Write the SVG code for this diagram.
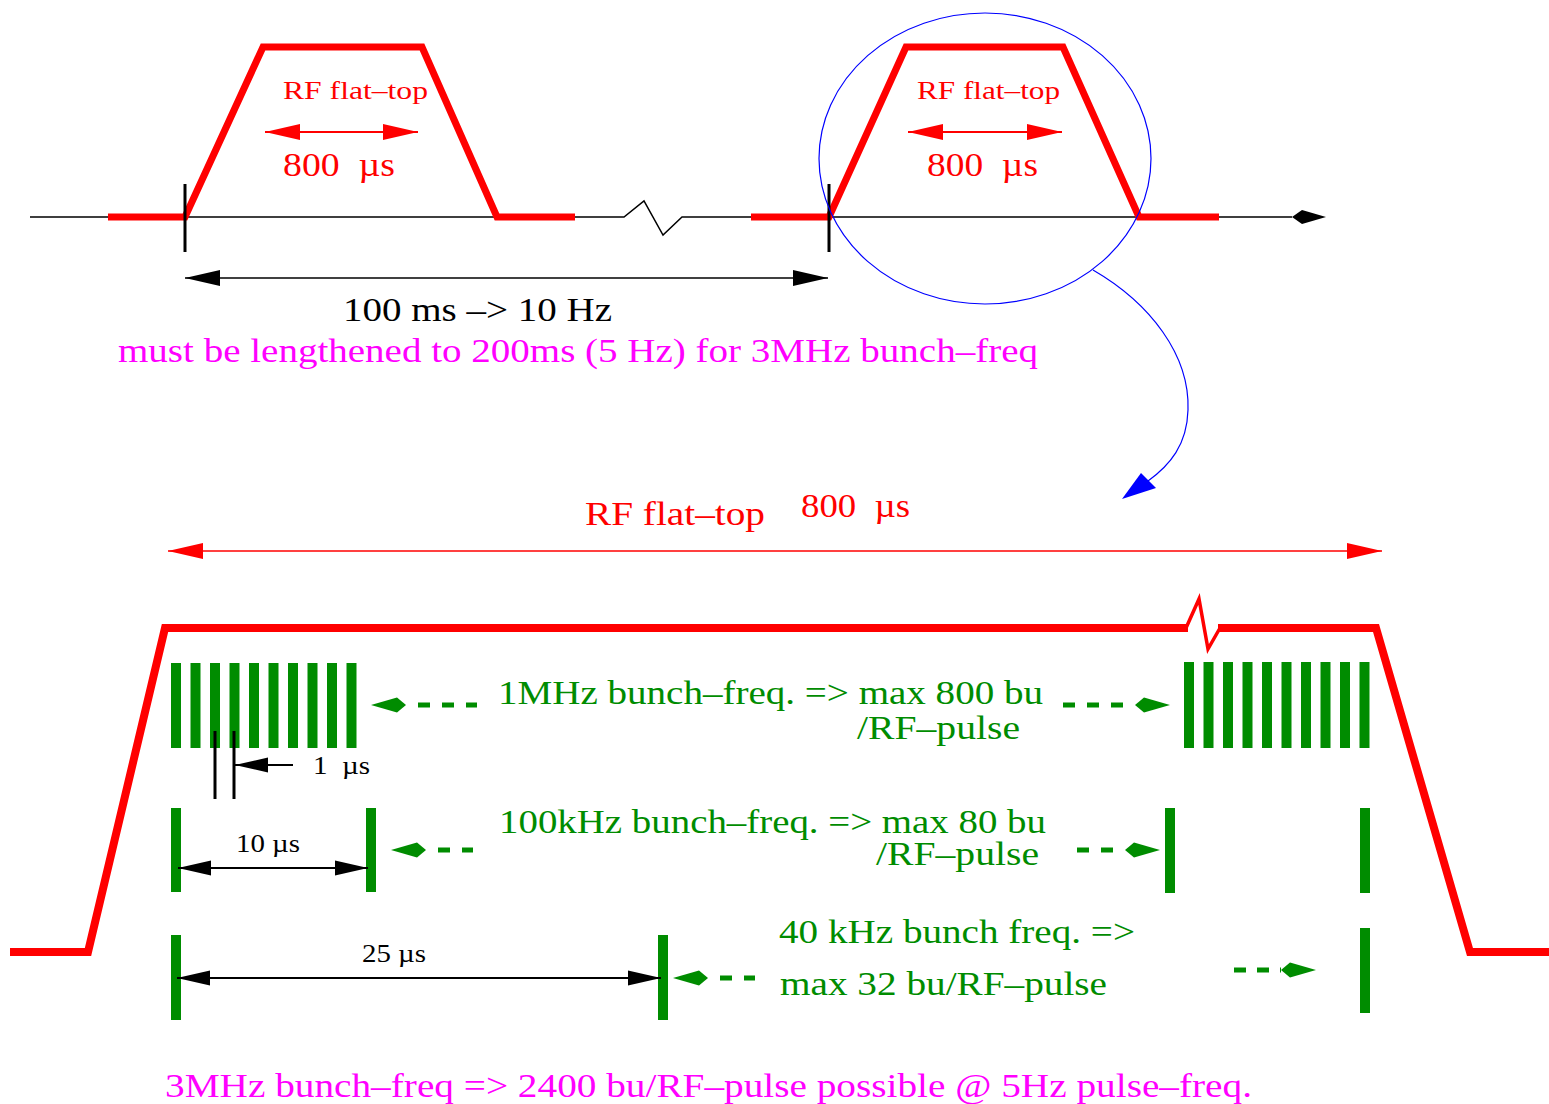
<svg xmlns="http://www.w3.org/2000/svg" width="1549" height="1104" viewBox="0 0 1549 1104">
<style>
text{font-family:"Liberation Serif","Times New Roman",serif;}
.red{fill:#ff0000}
.grn{fill:#008c00}
.mag{fill:#ff00ff}
.blk{fill:#000}
.big{font-size:34px}
.mid{font-size:33px}
.sm{font-size:26px}
.xs{font-size:25px}
.pulse{fill:none;stroke:#ff0000;stroke-width:7;stroke-linejoin:miter}
.bigpulse{fill:none;stroke:#ff0000;stroke-width:8;stroke-linejoin:miter}
.dash{fill:none;stroke:#008c00;stroke-width:5;stroke-dasharray:12 12}
.bar{fill:#008c00}
</style>
<defs>
<marker id="triBlack" markerUnits="userSpaceOnUse" markerWidth="36" markerHeight="18" refX="35" refY="8" orient="auto-start-reverse" overflow="visible">
<path d="M0,0 L35,8 L0,16 z" fill="#000"/>
</marker>
<marker id="triBlackS" markerUnits="userSpaceOnUse" markerWidth="34" markerHeight="16" refX="33" refY="7.5" orient="auto-start-reverse" overflow="visible">
<path d="M0,0 L33,7.5 L0,15 z" fill="#000"/>
</marker>
<marker id="triRed" markerUnits="userSpaceOnUse" markerWidth="36" markerHeight="18" refX="35" refY="8" orient="auto-start-reverse" overflow="visible">
<path d="M0,0 L35,8 L0,16 z" fill="#ff0000"/>
</marker>
<marker id="kiteGreen" markerUnits="userSpaceOnUse" markerWidth="36" markerHeight="16" refX="0" refY="0" orient="auto-start-reverse" overflow="visible">
<path d="M0,0 L9,-7.5 L35,0 L9,7.5 z" fill="#008c00"/>
</marker>
<marker id="kiteBlack" markerUnits="userSpaceOnUse" markerWidth="36" markerHeight="16" refX="0" refY="0" orient="auto" overflow="visible">
<path d="M0,0 L10,-7 L34,0 L10,7 z" fill="#000"/>
</marker>
</defs>

<g id="top-axis">
<path d="M30,217 L624,217 L644,201 L663,235 L682,217 L1292,217" fill="none" stroke="#000" stroke-width="1.5" marker-end="url(#kiteBlack)"/>
</g>

<g id="pulse-left">
<path class="pulse" d="M108,217 L185,217 L263,47 L422,47 L497,217 L575,217"/>
<line x1="185" y1="184" x2="185" y2="252" stroke="#000" stroke-width="3"/>
<text class="red sm" x="283" y="99" textLength="145" lengthAdjust="spacingAndGlyphs">RF flat–top</text>
<text class="red big" x="283" y="176" textLength="112" lengthAdjust="spacingAndGlyphs" xml:space="preserve">800  µs</text>
</g>

<g id="pulse-right">
<path class="pulse" d="M751,217 L829,217 L906,47 L1063,47 L1139,217 L1219,217"/>
<line x1="829" y1="184" x2="829" y2="252" stroke="#000" stroke-width="3"/>
<text class="red sm" x="917" y="99" textLength="143" lengthAdjust="spacingAndGlyphs">RF flat–top</text>
<text class="red big" x="927" y="176" textLength="111" lengthAdjust="spacingAndGlyphs" xml:space="preserve">800  µs</text>
</g>

<g id="zoom-ellipse">
<ellipse cx="985" cy="158.5" rx="166" ry="145.5" fill="none" stroke="#0000ff" stroke-width="1.2"/>
</g>

<g id="period-labels">
<text class="blk big" x="343" y="321" textLength="269" lengthAdjust="spacingAndGlyphs">100 ms –&gt; 10 Hz</text>
<text class="mag big" x="118" y="362" textLength="920" lengthAdjust="spacingAndGlyphs">must be lengthened to 200ms (5 Hz) for 3MHz bunch–freq</text>
</g>

<g id="flat-top-label">
<text class="red mid" x="585" y="525" textLength="180" lengthAdjust="spacingAndGlyphs">RF flat–top</text>
<text class="red mid" x="801" y="517" textLength="109" lengthAdjust="spacingAndGlyphs" xml:space="preserve">800  µs</text>
</g>

<g id="big-pulse">
<path class="bigpulse" d="M10,952 L88,952 L165,628 L1188,628"/>
<path class="bigpulse" d="M1218,628 L1376,628 L1470,952 L1549,952"/>
<path d="M1186,628 L1199,599 L1208,649 L1220,628" fill="none" stroke="#ff0000" stroke-width="3.5" stroke-linejoin="miter"/>
</g>

<g id="bunches-1MHz-left">
<rect class="bar" x="171" y="663" width="10" height="85"/>
<rect class="bar" x="190.5" y="663" width="10" height="85"/>
<rect class="bar" x="210" y="663" width="10" height="85"/>
<rect class="bar" x="229.5" y="663" width="10" height="85"/>
<rect class="bar" x="249" y="663" width="10" height="85"/>
<rect class="bar" x="268.5" y="663" width="10" height="85"/>
<rect class="bar" x="288" y="663" width="10" height="85"/>
<rect class="bar" x="307.5" y="663" width="10" height="85"/>
<rect class="bar" x="327" y="663" width="10" height="85"/>
<rect class="bar" x="346.5" y="663" width="10" height="85"/>
</g>

<g id="bunches-1MHz-right">
<rect class="bar" x="1184" y="662" width="10" height="86"/>
<rect class="bar" x="1203.5" y="662" width="10" height="86"/>
<rect class="bar" x="1223" y="662" width="10" height="86"/>
<rect class="bar" x="1242.5" y="662" width="10" height="86"/>
<rect class="bar" x="1262" y="662" width="10" height="86"/>
<rect class="bar" x="1281.5" y="662" width="10" height="86"/>
<rect class="bar" x="1301" y="662" width="10" height="86"/>
<rect class="bar" x="1320.5" y="662" width="10" height="86"/>
<rect class="bar" x="1340" y="662" width="10" height="86"/>
<rect class="bar" x="1359.5" y="662" width="10" height="86"/>
</g>

<g id="spacing-1us">
<line x1="215" y1="731" x2="215" y2="799" stroke="#000" stroke-width="3"/>
<line x1="234" y1="731" x2="234" y2="799" stroke="#000" stroke-width="3"/>
<text class="blk xs" x="313" y="774" textLength="57" lengthAdjust="spacingAndGlyphs" xml:space="preserve">1  µs</text>
</g>

<g id="bunches-100kHz">
<rect class="bar" x="171" y="808" width="10" height="84"/>
<rect class="bar" x="366" y="808" width="10" height="84"/>
<rect class="bar" x="1165" y="808" width="10" height="85"/>
<rect class="bar" x="1360" y="808" width="10" height="85"/>
<text class="blk xs" x="236" y="852" textLength="64" lengthAdjust="spacingAndGlyphs">10 µs</text>
</g>

<g id="bunches-40kHz">
<rect class="bar" x="171" y="935" width="10" height="85"/>
<rect class="bar" x="658" y="935" width="10" height="85"/>
<rect class="bar" x="1360" y="928" width="10" height="85"/>
<text class="blk xs" x="362" y="962" textLength="64" lengthAdjust="spacingAndGlyphs">25 µs</text>
</g>

<g id="labels-green">
<text class="grn mid" x="498" y="704" textLength="545" lengthAdjust="spacingAndGlyphs">1MHz bunch–freq. =&gt; max 800 bu</text>
<text class="grn mid" x="857" y="739" textLength="163" lengthAdjust="spacingAndGlyphs">/RF–pulse</text>
<text class="grn mid" x="499" y="833" textLength="547" lengthAdjust="spacingAndGlyphs">100kHz bunch–freq. =&gt; max 80 bu</text>
<text class="grn mid" x="876" y="865" textLength="163" lengthAdjust="spacingAndGlyphs">/RF–pulse</text>
<text class="grn mid" x="779" y="943" textLength="356" lengthAdjust="spacingAndGlyphs">40 kHz bunch freq. =&gt;</text>
<text class="grn mid" x="780" y="995" textLength="327" lengthAdjust="spacingAndGlyphs">max 32 bu/RF–pulse</text>
</g>

<g id="conclusion">
<text class="mag mid" x="165" y="1097" textLength="1087" lengthAdjust="spacingAndGlyphs">3MHz bunch–freq =&gt; 2400 bu/RF–pulse possible @ 5Hz pulse–freq.</text>
</g>

<g id="connectors">
<line x1="185" y1="278" x2="828" y2="278" stroke="#000" stroke-width="1.5" marker-start="url(#triBlack)" marker-end="url(#triBlack)"/>
<line x1="265" y1="132" x2="418" y2="132" stroke="#ff0000" stroke-width="2" marker-start="url(#triRed)" marker-end="url(#triRed)"/>
<line x1="908" y1="132" x2="1062" y2="132" stroke="#ff0000" stroke-width="2" marker-start="url(#triRed)" marker-end="url(#triRed)"/>
<line x1="168" y1="551" x2="1382" y2="551" stroke="#ff0000" stroke-width="1.5" marker-start="url(#triRed)" marker-end="url(#triRed)"/>
<path d="M1093,270 C1150,303 1190,355 1188,410 C1187,445 1170,465 1148,481" fill="none" stroke="#0000ff" stroke-width="1.2"/>
<polygon points="1122,499 1141,473 1156,488" fill="#0000ff"/>
<line x1="293" y1="765" x2="235" y2="765" stroke="#000" stroke-width="2" marker-end="url(#triBlackS)"/>
<line x1="178" y1="868" x2="368" y2="868" stroke="#000" stroke-width="2" marker-start="url(#triBlackS)" marker-end="url(#triBlackS)"/>
<line x1="177" y1="978" x2="661" y2="978" stroke="#000" stroke-width="2" marker-start="url(#triBlackS)" marker-end="url(#triBlackS)"/>
<line class="dash" x1="406" y1="705" x2="477" y2="705" stroke-dashoffset="12" marker-start="url(#kiteGreen)"/>
<line class="dash" x1="1063" y1="705" x2="1135" y2="705" marker-end="url(#kiteGreen)"/>
<line class="dash" x1="426" y1="850" x2="473" y2="850" stroke-dashoffset="12" marker-start="url(#kiteGreen)"/>
<line class="dash" x1="1077" y1="850" x2="1125" y2="850" marker-end="url(#kiteGreen)"/>
<line class="dash" x1="708" y1="978" x2="755" y2="978" stroke-dashoffset="12" marker-start="url(#kiteGreen)"/>
<line class="dash" x1="1234" y1="970" x2="1281" y2="970" style="stroke-dasharray:12 11" marker-end="url(#kiteGreen)"/>
</g>
</svg>
